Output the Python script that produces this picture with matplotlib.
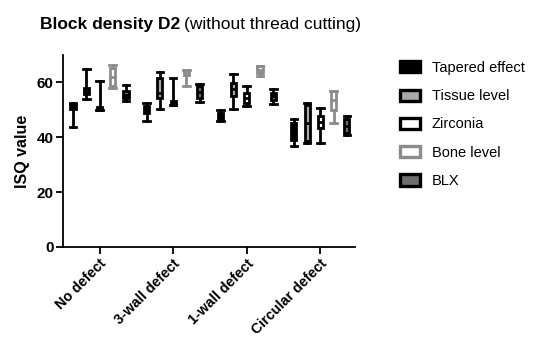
import numpy as np
import matplotlib
matplotlib.use("Agg")
import matplotlib.pyplot as plt
from matplotlib.patches import Patch

plt.rcParams['font.family'] = ['Liberation Sans', 'DejaVu Sans']

groups = ['No defect', '3-wall defect', '1-wall defect', 'Circular defect']
series = ['Tapered effect', 'Tissue level', 'Zirconia', 'Bone level', 'BLX']

# per group: [whisker low, q1, median, q3, whisker high]
tapered = [[43.6, 50.3, 51.0, 51.6, 52.5],
           [46.0, 48.8, 50.0, 51.2, 52.5],
           [45.8, 46.6, 47.7, 48.8, 50.0],
           [36.9, 39.1, 42.0, 45.2, 46.6]]
tissue = [[54.1, 55.9, 57.0, 58.0, 64.9],
          [50.3, 54.3, 56.1, 61.6, 63.8],
          [50.3, 54.9, 57.5, 59.8, 63.1],
          [37.9, 38.5, 45.0, 51.9, 52.5]]
zirconia = [[49.8, 49.8, 50.4, 51.0, 60.4],
            [51.6, 51.9, 52.5, 53.1, 61.4],
            [51.5, 52.5, 54.3, 56.1, 58.8],
            [37.9, 43.4, 45.5, 47.6, 50.7]]
bone = [[58.0, 58.6, 62.0, 65.3, 66.2],
        [58.5, 62.8, 63.7, 64.6, 64.6],
        [62.2, 63.4, 64.6, 65.9, 65.9],
        [45.2, 50.0, 53.5, 57.0, 57.0]]
blx = [[53.1, 54.3, 55.5, 56.7, 59.2],
       [52.8, 54.3, 56.4, 58.5, 59.4],
       [52.1, 53.7, 54.9, 56.1, 57.6],
       [40.9, 41.5, 44.0, 46.6, 47.6]]

all_data = [tapered, tissue, zirconia, bone, blx]
# (face, edge)
styles = [('black', 'black'), ('#a8a8a8', 'black'), ('white', 'black'),
          ('white', '#8c8c8c'), ('#6e6e6e', 'black')]

fig = plt.figure(figsize=(5.33, 3.41), dpi=100)
ax = fig.add_axes([0.119, 0.276, 0.547, 0.563])

step = 0.18
lw = 2.0
for k, (data, (fc, ec)) in enumerate(zip(all_data, styles)):
    stats = [dict(whislo=d[0], q1=d[1], med=d[2], q3=d[3], whishi=d[4], fliers=[])
             for d in data]
    pos = np.arange(len(groups)) + (k - 2) * step
    ax.bxp(stats, positions=pos, widths=0.07, patch_artist=True, showfliers=False,
           boxprops=dict(facecolor=fc, edgecolor=ec, linewidth=lw),
           medianprops=dict(color=ec, linewidth=lw),
           whiskerprops=dict(color=ec, linewidth=lw),
           capprops=dict(color=ec, linewidth=lw), capwidths=0.09,
           manage_ticks=False)

ax.set_xlim(-0.49, 3.47)
ax.set_ylim(0, 70)
ax.set_yticks([0, 20, 40, 60])
ax.set_xticks(range(len(groups)))
ax.set_xticklabels(groups, rotation=45, ha='right', rotation_mode='anchor',
                   fontsize=10.3, fontweight='bold')
for lab in ax.get_yticklabels():
    lab.set_fontweight('bold')
    lab.set_fontsize(11)
ax.set_ylabel('ISQ value', fontsize=11.5, fontweight='bold', labelpad=5)
for s in ['top', 'right']:
    ax.spines[s].set_visible(False)
for s in ['left', 'bottom']:
    ax.spines[s].set_linewidth(1.3)
ax.tick_params(width=1.3, length=5, pad=2)

fig.text(0.075, 0.915, 'Block density D2', fontsize=12.5, fontweight='bold', va='baseline')
fig.text(0.345, 0.915, '(without thread cutting)', fontsize=12.5, va='baseline')

handles = [Patch(facecolor=fc, edgecolor=ec, linewidth=2.4) for fc, ec in styles]
fig.legend(handles, series, loc='upper left', bbox_to_anchor=(0.725, 0.86),
           frameon=False, fontsize=10.5, handlelength=1.4, handleheight=0.8,
           labelspacing=0.98, handletextpad=0.8)

fig.savefig('out.png', dpi=100)
